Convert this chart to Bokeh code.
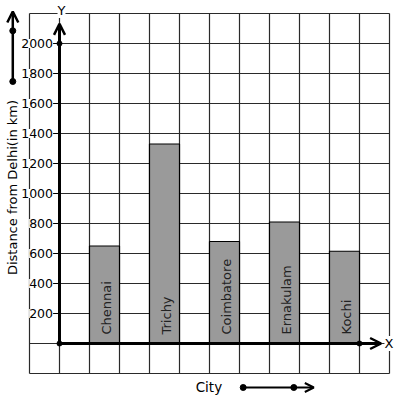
import math
from bokeh.plotting import figure
from bokeh.models import Range1d, Arrow, OpenHead, ColumnDataSource
from bokeh.core.properties import value
from bokeh.embed import file_html
from bokeh.resources import INLINE

# ---- data ----
cities = ["Chennai", "Trichy", "Coimbatore", "Ernakulam", "Kochi"]
distances = [650, 1330, 680, 810, 615]
y_ticks = [200, 400, 600, 800, 1000, 1200, 1400, 1600, 1800, 2000]
y_tick_labels = [str(v) for v in y_ticks]
grid_x = list(range(-1, 12))
grid_y = list(range(-200, 2201, 200))
x_title = "City"
y_title = "Distance from Delhi(in km)"

FONT = value("DejaVu Sans")

W, H = 397, 399
OX, OY = 59, 343  # pixel position of the origin
p = figure(width=W, height=H, output_backend="svg", toolbar_location=None,
           x_range=Range1d(-OX / 30, (W - OX) / 30),
           y_range=Range1d((OY - H) / 0.15, OY / 0.15),
           x_axis_type=None, y_axis_type=None, min_border=0)
p.outline_line_color = None
p.background_fill_color = "white"
p.border_fill_color = "white"

# graph-paper grid
gx0, gx1 = grid_x[0], grid_x[-1]
gy0, gy1 = grid_y[0], grid_y[-1]
p.segment(x0=grid_x, y0=[gy0] * len(grid_x), x1=grid_x, y1=[gy1] * len(grid_x),
          line_color="#2a2a2a", line_width=1.2)
p.segment(x0=[gx0] * len(grid_y), y0=grid_y, x1=[gx1] * len(grid_y), y1=grid_y,
          line_color="#2a2a2a", line_width=1.2)

# bars
centers = [2 * i + 1.5 for i in range(len(cities))]
src = ColumnDataSource(dict(x=centers, top=distances, name=cities))
p.vbar(x="x", top="top", bottom=0, width=1, source=src,
       fill_color="#9a9a9a", line_color="black", line_width=1.2)
p.text(x="x", y=0, text="name", source=src, angle=math.pi / 2,
       text_align="left", text_baseline="alphabetic", x_offset=2, y_offset=-9,
       text_font=FONT, text_font_size="13px", text_color="#222222")

# axes with arrow heads
p.add_layout(Arrow(x_start=0, y_start=0, x_end=0, y_end=2131,
                   line_width=3, line_color="black",
                   end=OpenHead(size=11, line_width=2.5, line_color="black")))
p.add_layout(Arrow(x_start=0, y_start=0, x_end=10.72, y_end=0,
                   line_width=3, line_color="black",
                   end=OpenHead(size=11, line_width=2.5, line_color="black")))

# y ticks and labels
p.segment(x0=[-0.2] * len(y_ticks), y0=y_ticks, x1=[0] * len(y_ticks), y1=y_ticks,
          line_color="black", line_width=1.2)
p.text(x=[0] * len(y_ticks), y=y_ticks, text=y_tick_labels, x_offset=-6.5,
       text_align="right", text_baseline="middle", text_font=FONT,
       text_font_size="12.5px", text_color="black", background_fill_color="white")

# axis dots
p.scatter(x=[0, 0, 10], y=[0, 2000, 0], size=5, color="black")

# axis letters
p.text(x=[0.067], y=[2220], text=["Y"], text_align="center", text_baseline="middle",
       text_font=FONT, text_font_size="13px", text_color="black",
       background_fill_color="white")
p.text(x=[10.98], y=[0], text=["X"], text_align="center", text_baseline="middle",
       text_font=FONT, text_font_size="13px", text_color="black",
       background_fill_color="white")

# titles
p.text(x=[-1.567], y=[1040], text=[y_title], angle=math.pi / 2, text_align="center",
       text_baseline="middle", text_font=FONT, text_font_size="13px", text_color="black")
p.text(x=[4.98], y=[-290], text=[x_title], text_align="center", text_baseline="middle",
       text_font=FONT, text_font_size="13.5px", text_color="black")

# decorative direction arrows
p.add_layout(Arrow(x_start=-1.557, y_start=1746.7, x_end=-1.557, y_end=2213.3,
                   line_width=2.5, line_color="black",
                   end=OpenHead(size=11, line_width=2.5, line_color="black")))
p.scatter(x=[-1.557, -1.557], y=[1746.7, 2084.7], size=6, color="black")
p.add_layout(Arrow(x_start=6.123, y_start=-293.3, x_end=8.477, y_end=-293.3,
                   line_width=2, line_color="black",
                   end=OpenHead(size=9, line_width=2, line_color="black")))
p.scatter(x=[6.123, 7.81], y=[-293.3, -293.3], size=6, color="black")

open("out.html", "w").write(file_html(p, INLINE))
